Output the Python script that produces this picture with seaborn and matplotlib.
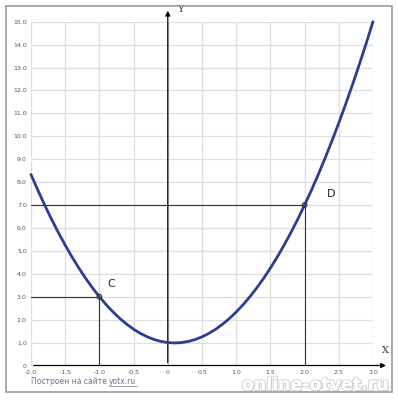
import matplotlib
matplotlib.use("Agg")
import matplotlib.pyplot as plt
import matplotlib.patheffects as pe
from matplotlib.patches import Rectangle
import seaborn as sns
import pandas as pd

# curve samples
x_vals = [-2.0, -1.9, -1.8, -1.7, -1.6, -1.5, -1.4, -1.3, -1.2, -1.1, -1.0,
          -0.9, -0.8, -0.7, -0.6, -0.5, -0.4, -0.3, -0.2, -0.1, 0.0,
          0.1, 0.2, 0.3, 0.4, 0.5, 0.6, 0.7, 0.8, 0.9, 1.0,
          1.1, 1.2, 1.3, 1.4, 1.5, 1.6, 1.7, 1.8, 1.9, 2.0,
          2.1, 2.2, 2.3, 2.4, 2.5, 2.6, 2.7, 2.8, 2.9, 3.0]
y_vals = [8.333, 7.65, 7.0, 6.383, 5.8, 5.25, 4.733, 4.25, 3.8, 3.383, 3.0,
          2.65, 2.333, 2.05, 1.8, 1.583, 1.4, 1.25, 1.133, 1.05, 1.0,
          0.983, 1.0, 1.05, 1.133, 1.25, 1.4, 1.583, 1.8, 2.05, 2.333,
          2.65, 3.0, 3.383, 3.8, 4.25, 4.733, 5.25, 5.8, 6.383, 7.0,
          7.65, 8.333, 9.05, 9.8, 10.583, 11.4, 12.25, 13.133, 14.05, 15.0]

point_names = ["C", "D"]
point_x = [-1.0, 2.0]
point_y = [3.0, 7.0]

x_ticks = [-2.0, -1.5, -1.0, -0.5, 0.0, 0.5, 1.0, 1.5, 2.0, 2.5, 3.0]
x_tick_labels = ["-2.0", "-1.5", "-1.0", "-0.5", "0", "0.5", "1.0", "1.5", "2.0", "2.5", "3.0"]
y_ticks = list(range(0, 16))
y_tick_labels = ["0"] + [f"{v}.0" for v in range(1, 16)]

footer_text = "Построен на сайте "
footer_link = "yotx.ru"
watermark = "online-otvet.ru"

sns.set_theme(style="white")
plt.rcParams['font.family'] = ['DejaVu Sans']

fig = plt.figure(figsize=(3.98, 4.0), dpi=100)
fig.patch.set_facecolor("white")
ax = fig.add_axes([31/398, 1 - 365.5/400, 342/398, (365.5 - 21.7)/400])
ax.set_xlim(-2.0, 3.0)
ax.set_ylim(0, 15)
for s in ax.spines.values():
    s.set_visible(False)

# grid
for xv in x_ticks:
    ax.axvline(xv, color="#dddddd", lw=0.9, zorder=0)
for yv in y_ticks[1:]:
    ax.axhline(yv, color="#dddddd", lw=0.9, zorder=0)

ax.set_xticks(x_ticks)
ax.set_xticklabels(x_tick_labels)
ax.set_yticks(y_ticks)
ax.set_yticklabels(y_tick_labels)
ax.tick_params(axis="both", length=0, labelsize=4.5, labelcolor="#555555")
ax.tick_params(axis="x", pad=3)
ax.tick_params(axis="y", pad=3)

# axes with arrows
ax.annotate("", xy=(3.23, 0), xytext=(-2.0, 0),
            arrowprops=dict(arrowstyle="-|>", color="black", lw=0.9, mutation_scale=7),
            annotation_clip=False, zorder=3)
ax.annotate("", xy=(0, 15.6), xytext=(0, 0),
            arrowprops=dict(arrowstyle="-|>", color="black", lw=0.9, mutation_scale=7),
            annotation_clip=False, zorder=3)
ax.text(0.13, 15.55, "Y", fontsize=7, family="DejaVu Serif", color="#333333",
        ha="left", va="center", clip_on=False)
ax.text(3.18, 0.45, "X", fontsize=7, family="DejaVu Serif", color="#333333",
        ha="center", va="bottom", clip_on=False)

# guide lines
for px, py in zip(point_x, point_y):
    ax.plot([-2.0, px], [py, py], color="#333333", lw=0.8, zorder=2)
    ax.plot([px, px], [py, 0], color="#333333", lw=0.8, zorder=2)

# curve
df = pd.DataFrame({"x": x_vals, "y": y_vals})
sns.lineplot(data=df, x="x", y="y", ax=ax, color="#2c3e91", lw=2.0, sort=False,
             zorder=4, clip_on=False)
ax.set_xlabel("")
ax.set_ylabel("")

# points
ax.scatter(point_x, point_y, s=12, facecolors="none", edgecolors="#333333",
           linewidths=0.8, zorder=5)
ax.text(-0.89, 3.55, point_names[0], fontsize=8, color="#222222", ha="left", va="center")
ax.text(2.33, 7.5, point_names[1], fontsize=8, color="#222222", ha="left", va="center")

# footer
t = fig.text(31/398, 1 - 384.5/400, footer_text, fontsize=5.5, color="#6a7490",
             ha="left", va="baseline")
fig.canvas.draw()
bb = t.get_window_extent()
x1 = bb.x1 / fig.bbox.width
t2 = fig.text(x1, 1 - 384.5/400, footer_link, fontsize=5.5, color="#6a7490",
              ha="left", va="baseline")
fig.canvas.draw()
bb2 = t2.get_window_extent()
uy = 1 - 386/400
fig.add_artist(plt.Line2D([bb2.x0 / fig.bbox.width, bb2.x1 / fig.bbox.width],
                          [uy, uy], color="#6a7490", lw=0.5))

# watermark
fig.text(389/398, 1 - 385/400, watermark, fontsize=12.5, fontweight="bold",
         color="white", ha="right", va="center",
         path_effects=[pe.withSimplePatchShadow(offset=(0.8, -0.8), shadow_rgbFace="#aaaaaa", alpha=0.8),
                       pe.withStroke(linewidth=1.5, foreground="#d0d0d0"),
                       pe.Normal()])

# outer frame
fig.add_artist(Rectangle((6/398, 1 - 392/400), 386/398, 386/400,
                         transform=fig.transFigure, fill=False,
                         edgecolor="#999999", lw=1.2))

fig.savefig("out.png", dpi=100)
